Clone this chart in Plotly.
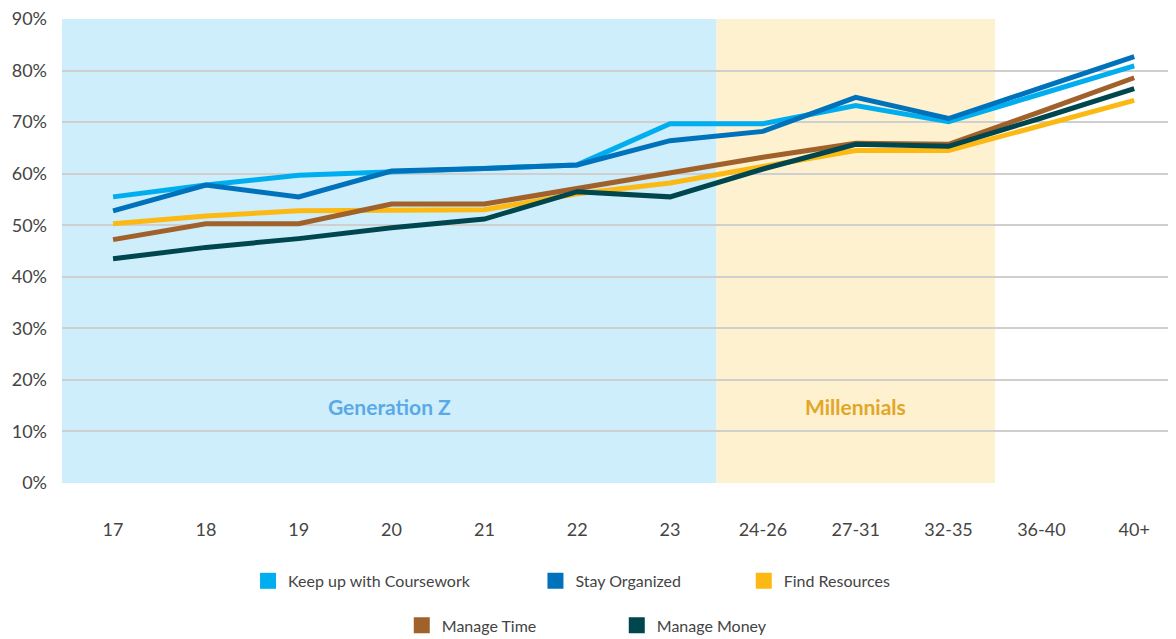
"""
Self-reported skills by student age group, shaded by generation.
"""

import plotly.graph_objects as go

AGES = ["17", "18", "19", "20", "21", "22", "23", "24-26", "27-31", "32-35", "36-40", "40+"]

COURSEWORK = [55.5, 57.8, 59.7, 60.3, 61.0, 61.7, 69.7, 69.7, 73.2, 70.1, 75.5, 80.9]
ORGANIZED = [52.8, 57.8, 55.5, 60.5, 61.0, 61.7, 66.4, 68.2, 74.8, 70.7, 76.7, 82.7]
RESOURCES = [50.3, 51.8, 52.8, 52.8, 53.0, 56.1, 58.2, 61.4, 64.5, 64.5, 69.4, 74.2]
MANAGE_TIME = [47.2, 50.3, 50.3, 54.1, 54.1, 57.2, 60.3, 63.2, 65.9, 65.7, 72.1, 78.6]
MANAGE_MONEY = [43.5, 45.7, 47.4, 49.5, 51.2, 56.5, 55.5, 60.9, 65.7, 65.3, 70.8, 76.5]

SERIES = [
    ("Keep up with Coursework", COURSEWORK, "#00aeef"),
    ("Stay Organized", ORGANIZED, "#0072bc"),
    ("Find Resources", RESOURCES, "#fdb913"),
    ("Manage Time", MANAGE_TIME, "#a0612a"),
    ("Manage Money", MANAGE_MONEY, "#00464f"),
]

# legend slot for each series: (legend id, x paper, y paper)
LEGEND_SLOTS = [
    ("legend", 0.167, -0.211),
    ("legend2", 0.425, -0.211),
    ("legend3", 0.612, -0.211),
    ("legend4", 0.305, -0.307),
    ("legend5", 0.498, -0.307),
]

FONT = "Lato, 'Open Sans', sans-serif"
TEXT_GREY = "#444444"

fig = go.Figure()

for (name, values, color), (leg, _, _) in zip(SERIES, LEGEND_SLOTS):
    fig.add_trace(
        go.Scatter(
            x=AGES,
            y=values,
            mode="lines",
            line=dict(color=color, width=5),
            name=name,
            showlegend=False,
            hovertemplate="%{x}: %{y:.1f}%<extra>" + name + "</extra>",
        )
    )
    # square swatch for the legend
    fig.add_trace(
        go.Scatter(
            x=[None],
            y=[None],
            mode="markers",
            marker=dict(symbol="square", size=16, color=color),
            name=name,
            legend=leg,
        )
    )

# generation bands
fig.add_shape(type="rect", xref="x", yref="y", x0=-0.55, x1=6.5, y0=0, y1=90,
              fillcolor="#cdeefa", line_width=0, layer="below")
fig.add_shape(type="rect", xref="x", yref="y", x0=6.5, x1=9.5, y0=0, y1=90,
              fillcolor="#fdf1d0", line_width=0, layer="below")

fig.add_annotation(x=2.975, y=14.8, xref="x", yref="y", text="<b>Generation Z</b>",
                   showarrow=False, font=dict(size=21, color="#5aa9e6", family=FONT))
fig.add_annotation(x=8.0, y=14.8, xref="x", yref="y", text="<b>Millennials</b>",
                   showarrow=False, font=dict(size=21, color="#e2a628", family=FONT))

legend_common = dict(
    orientation="h",
    xanchor="left",
    yanchor="middle",
    bgcolor="rgba(0,0,0,0)",
    font=dict(size=16, color=TEXT_GREY, family=FONT),
)
layout_legends = {}
for leg, lx, ly in LEGEND_SLOTS:
    layout_legends[leg] = dict(x=lx, y=ly, **legend_common)

# page body adds an 8px offset, so the figure is 8px smaller each way
fig.update_layout(
    width=1168,
    height=631,
    margin=dict(l=54, r=0, t=11, b=156, autoexpand=False),
    paper_bgcolor="white",
    plot_bgcolor="white",
    font=dict(family=FONT, color=TEXT_GREY, size=18),
    xaxis=dict(
        type="category",
        range=[-0.55, 11.45],
        showgrid=False,
        showline=False,
        zeroline=False,
        ticks="",
        ticklabelstandoff=34,
        tickfont=dict(size=18, color=TEXT_GREY),
    ),
    yaxis=dict(
        range=[0, 90],
        dtick=10,
        ticksuffix="%",
        showgrid=True,
        gridcolor="#cfcfcf",
        gridwidth=2,
        zeroline=False,
        showline=False,
        ticks="",
        ticklabelstandoff=14,
        ticklabeloverflow="allow",
        tickfont=dict(size=18, color=TEXT_GREY),
    ),
    **layout_legends,
)

fig.write_html("out.html")
